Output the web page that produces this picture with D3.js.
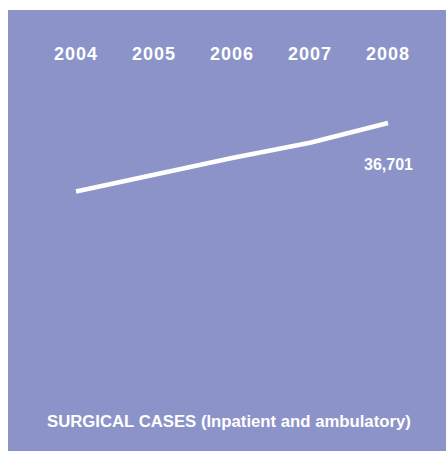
<!DOCTYPE html>
<html>
<head>
<meta charset="utf-8">
<script src="https://cdn.jsdelivr.net/npm/d3@7"></script>
<style>
  html, body { margin: 0; padding: 0; background: #ffffff; }
  svg { display: block; }
  text { font-family: "Liberation Sans", Arial, sans-serif; font-weight: bold; fill: #ffffff; }
</style>
</head>
<body>
<script>
// Data
const years = ["2004", "2005", "2006", "2007", "2008"];
const surgicalCases = [27700, 29900, 32100, 34100, 36701];
const endLabel = "36,701";
const title = "SURGICAL CASES (Inpatient and ambulatory)";

const W = 446, H = 451;
const svg = d3.select("body").append("svg").attr("width", W).attr("height", H);

svg.append("rect")
  .attr("x", 8).attr("y", 10)
  .attr("width", W - 8).attr("height", H - 10)
  .attr("fill", "#8b93c8");

const x = d3.scalePoint().domain(years).range([76, 388]);
const y = d3.scaleLinear().domain([0, 40000]).range([402.3, 97.9]);

// Year labels along top
const xAxis = svg.append("g").attr("transform", "translate(0,60)");
xAxis.selectAll("text")
  .data(years)
  .join("text")
  .attr("x", d => x(d))
  .attr("y", 0)
  .attr("text-anchor", "middle")
  .attr("font-size", 18)
  .attr("letter-spacing", 1)
  .text(d => d);

// Line
const line = d3.line()
  .x((d, i) => x(years[i]))
  .y(d => y(d));

svg.append("path")
  .datum(surgicalCases)
  .attr("d", line)
  .attr("fill", "none")
  .attr("stroke", "#ffffff")
  .attr("stroke-width", 4.5)
  .attr("stroke-linejoin", "round");

// End value label
svg.append("text")
  .attr("x", 413)
  .attr("y", 170)
  .attr("text-anchor", "end")
  .attr("font-size", 16)
  .text(endLabel);

// Title
const t = svg.append("text")
  .attr("x", 47)
  .attr("y", 427)
  .attr("font-size", 16)
  .text(title);
const len = t.node().getComputedTextLength();
const target = 364;
t.attr("font-size", 16 * target / len);
</script>
</body>
</html>
